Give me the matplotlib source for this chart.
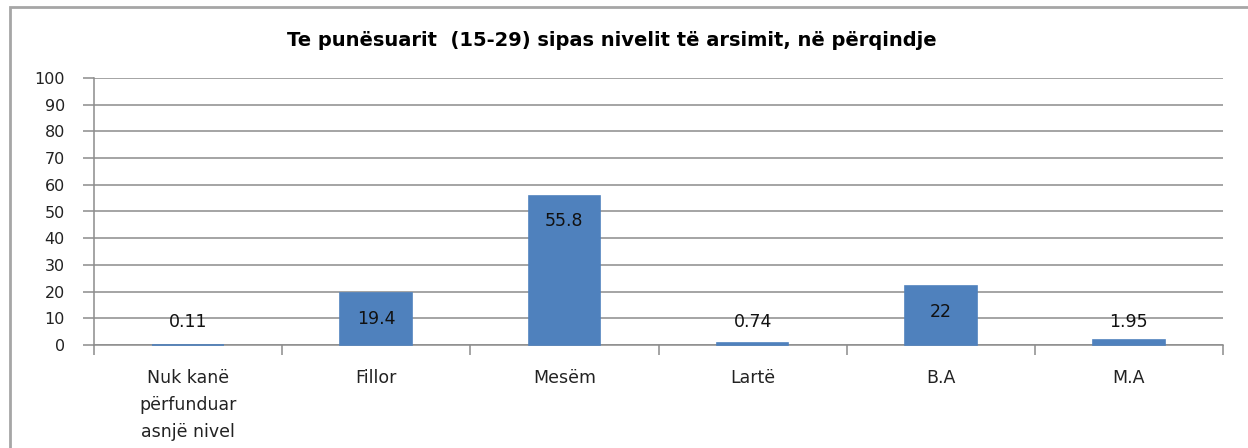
import matplotlib
matplotlib.use("Agg")
import matplotlib.pyplot as plt
from matplotlib.patches import Rectangle

# -------------------- DATOS --------------------
kategorite = ["Nuk kanë\npërfunduar\nasnjë nivel", "Fillor", "Mesëm", "Lartë", "B.A", "M.A"]
vlerat = [0.11, 19.4, 55.8, 0.74, 22, 1.95]
etiketat = ["0.11", "19.4", "55.8", "0.74", "22", "1.95"]
yticks = list(range(0, 101, 10))

titulli = "Te punësuarit  (15-29) sipas nivelit të arsimit, në përqindje"

ngjyra_shtylle = "#4F81BD"
ngjyra_rrjeti = "#8C8C8C"

# -------------------- FIGURA --------------------
fig = plt.figure(figsize=(12.48, 4.48), dpi=100)
ax = fig.add_axes([94 / 1248, 1 - 345 / 448, (1223 - 94) / 1248, (345 - 78) / 448])

x = range(len(kategorite))
shtyllat = ax.bar(x, vlerat, width=0.38, color=ngjyra_shtylle, edgecolor=ngjyra_shtylle,
                  linewidth=1.2, zorder=3)
for b in shtyllat:
    b.set_clip_on(False)

ax.set_xlim(-0.5, len(kategorite) - 0.5)
ax.set_ylim(0, 100)
ax.set_yticks(yticks)
ax.set_yticklabels([str(t) for t in yticks], fontsize=11.5, color="#222222")
ax.yaxis.grid(True, color=ngjyra_rrjeti, linewidth=1.1, zorder=0)

# etiketat e kategorive ne mes, ticks ne kufij
ax.set_xticks(list(x))
ax.set_xticklabels(kategorite, fontsize=12.5, color="#222222", linespacing=1.65)
ax.tick_params(axis="x", length=0, pad=17)
ax.set_xticks([i - 0.5 for i in range(len(kategorite) + 1)], minor=True)
ax.tick_params(axis="x", which="minor", length=7, color=ngjyra_rrjeti, width=1.1)
ax.tick_params(axis="y", length=8, color=ngjyra_rrjeti, width=1.1, pad=13)

for s in ["top", "right"]:
    ax.spines[s].set_visible(False)
for s in ["left", "bottom"]:
    ax.spines[s].set_color(ngjyra_rrjeti)
    ax.spines[s].set_linewidth(1.1)

# vlerat mbi/brenda shtyllave
for i, (v, t) in enumerate(zip(vlerat, etiketat)):
    ypos = max(v - 9.5, 8.5)
    ax.text(i, ypos, t, ha="center", va="center", fontsize=12.5, color="#111111", zorder=4)

fig.text(0.49, 1 - 41 / 448, titulli, ha="center", va="center", fontsize=14,
         fontweight="bold", family="DejaVu Sans")

# korniza e grafikut
fig.patches.append(Rectangle((10 / 1248, -0.2), 1.1, 1.2 - 7 / 448, transform=fig.transFigure,
                             fill=False, edgecolor="#A6A6A6", linewidth=2))

fig.savefig("out.png", dpi=100)
